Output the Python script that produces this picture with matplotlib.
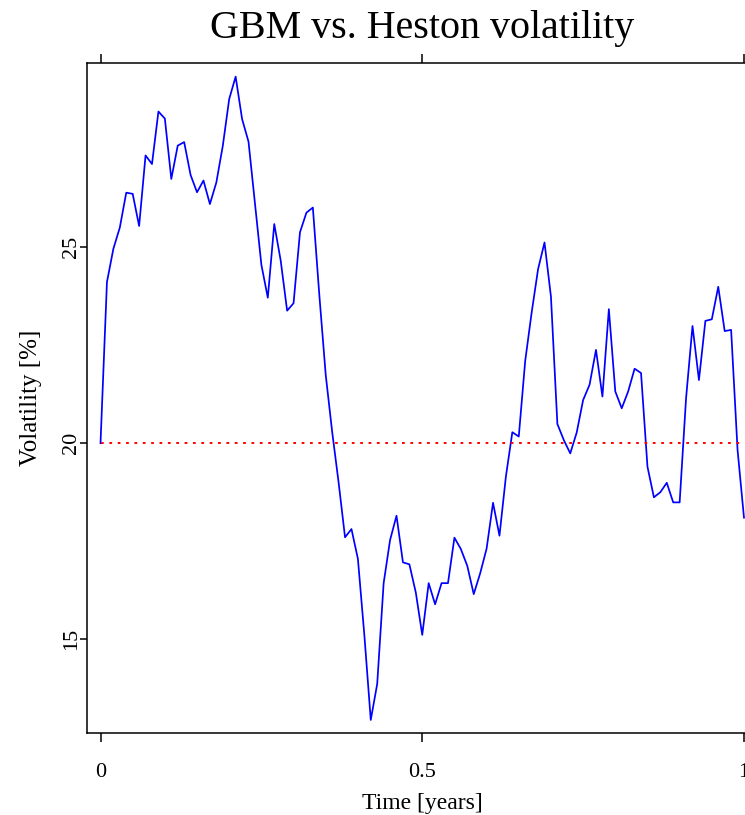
import numpy as np
import matplotlib
matplotlib.use("Agg")
import matplotlib.pyplot as plt

plt.rcParams["font.family"] = ["Liberation Serif", "DejaVu Serif"]

# simulated Heston volatility path (in %), one value per step of 0.01 years
heston_vol = [
    20.00, 24.11, 24.96, 25.50, 26.39, 26.36, 25.54, 27.34, 27.12, 28.46,
    28.28, 26.74, 27.59, 27.68, 26.84, 26.40, 26.70, 26.10, 26.65, 27.58,
    28.78, 29.35, 28.27, 27.69, 26.12, 24.55, 23.71, 25.59, 24.66, 23.38,
    23.57, 25.38, 25.88, 26.01, 23.79, 21.74, 20.29, 19.00, 17.60, 17.81,
    17.05, 15.11, 12.94, 13.86, 16.43, 17.53, 18.15, 16.96, 16.91, 16.19,
    15.11, 16.43, 15.89, 16.43, 16.43, 17.59, 17.30, 16.87, 16.15, 16.68,
    17.31, 18.48, 17.64, 19.15, 20.28, 20.17, 22.10, 23.33, 24.44, 25.12,
    23.74, 20.49, 20.08, 19.74, 20.27, 21.10, 21.49, 22.38, 21.19, 23.42,
    21.32, 20.89, 21.32, 21.90, 21.79, 19.40, 18.62, 18.75, 18.99, 18.49,
    18.49, 21.15, 22.99, 21.61, 23.12, 23.16, 23.99, 22.86, 22.89, 19.83,
    18.10,
]
time_years = np.linspace(0, 1, len(heston_vol))
gbm_vol = 20.0  # constant volatility of the GBM model

x_ticks = [0, 0.5, 1]
x_tick_labels = ["0", "0.5", "1"]
y_ticks = [15, 20, 25]

W, H = 745, 815
fig = plt.figure(figsize=(W / 100, H / 100), dpi=100)

# axes box in pixels: left 87, right 757.5 (runs past the edge), top 63.3, bottom 733.3
left, right, top, bottom = 87, 757.5, 63.3, 733.3
ax = fig.add_axes([left / W, (H - bottom) / H, (right - left) / W, (bottom - top) / H])

ax.plot(time_years, heston_vol, color="#0000ff", lw=1.25)
ax.plot([time_years[0], time_years[-1]], [gbm_vol, gbm_vol],
        color="#ff0000", lw=1.4, linestyle=(0, (1.4, 2.9)))

ax.set_xlim(-0.021, 1.021)
ax.set_ylim(12.60, 29.69)

for s in ax.spines.values():
    s.set_linewidth(1.1)

ax.set_xticks(x_ticks)
ax.set_xticklabels(x_tick_labels)
ax.set_yticks(y_ticks)
ax.set_yticklabels([str(v) for v in y_ticks], rotation=90, va="center")
ax.tick_params(axis="x", direction="out", length=6.8, width=1.1,
               labelsize=16, pad=14.3, top=True, labeltop=False)
ax.tick_params(axis="y", direction="out", length=5.2, width=1.1,
               labelsize=16, pad=-1.2)

ax.set_xlabel("Time [years]", fontsize=17)
ax.xaxis.label.set_va("baseline")
ax.xaxis.set_label_coords(0.5, (bottom - 809) / (bottom - top))
ax.set_ylabel("Volatility [%]", fontsize=18, va="center")
ax.yaxis.set_label_coords((31 - left) / (right - left), 0.5)

fig.text((left + right) / 2 / W, (H - 37.7) / H, "GBM vs. Heston volatility",
         ha="center", va="baseline", fontsize=28.8)

fig.savefig("out.png", dpi=100)
